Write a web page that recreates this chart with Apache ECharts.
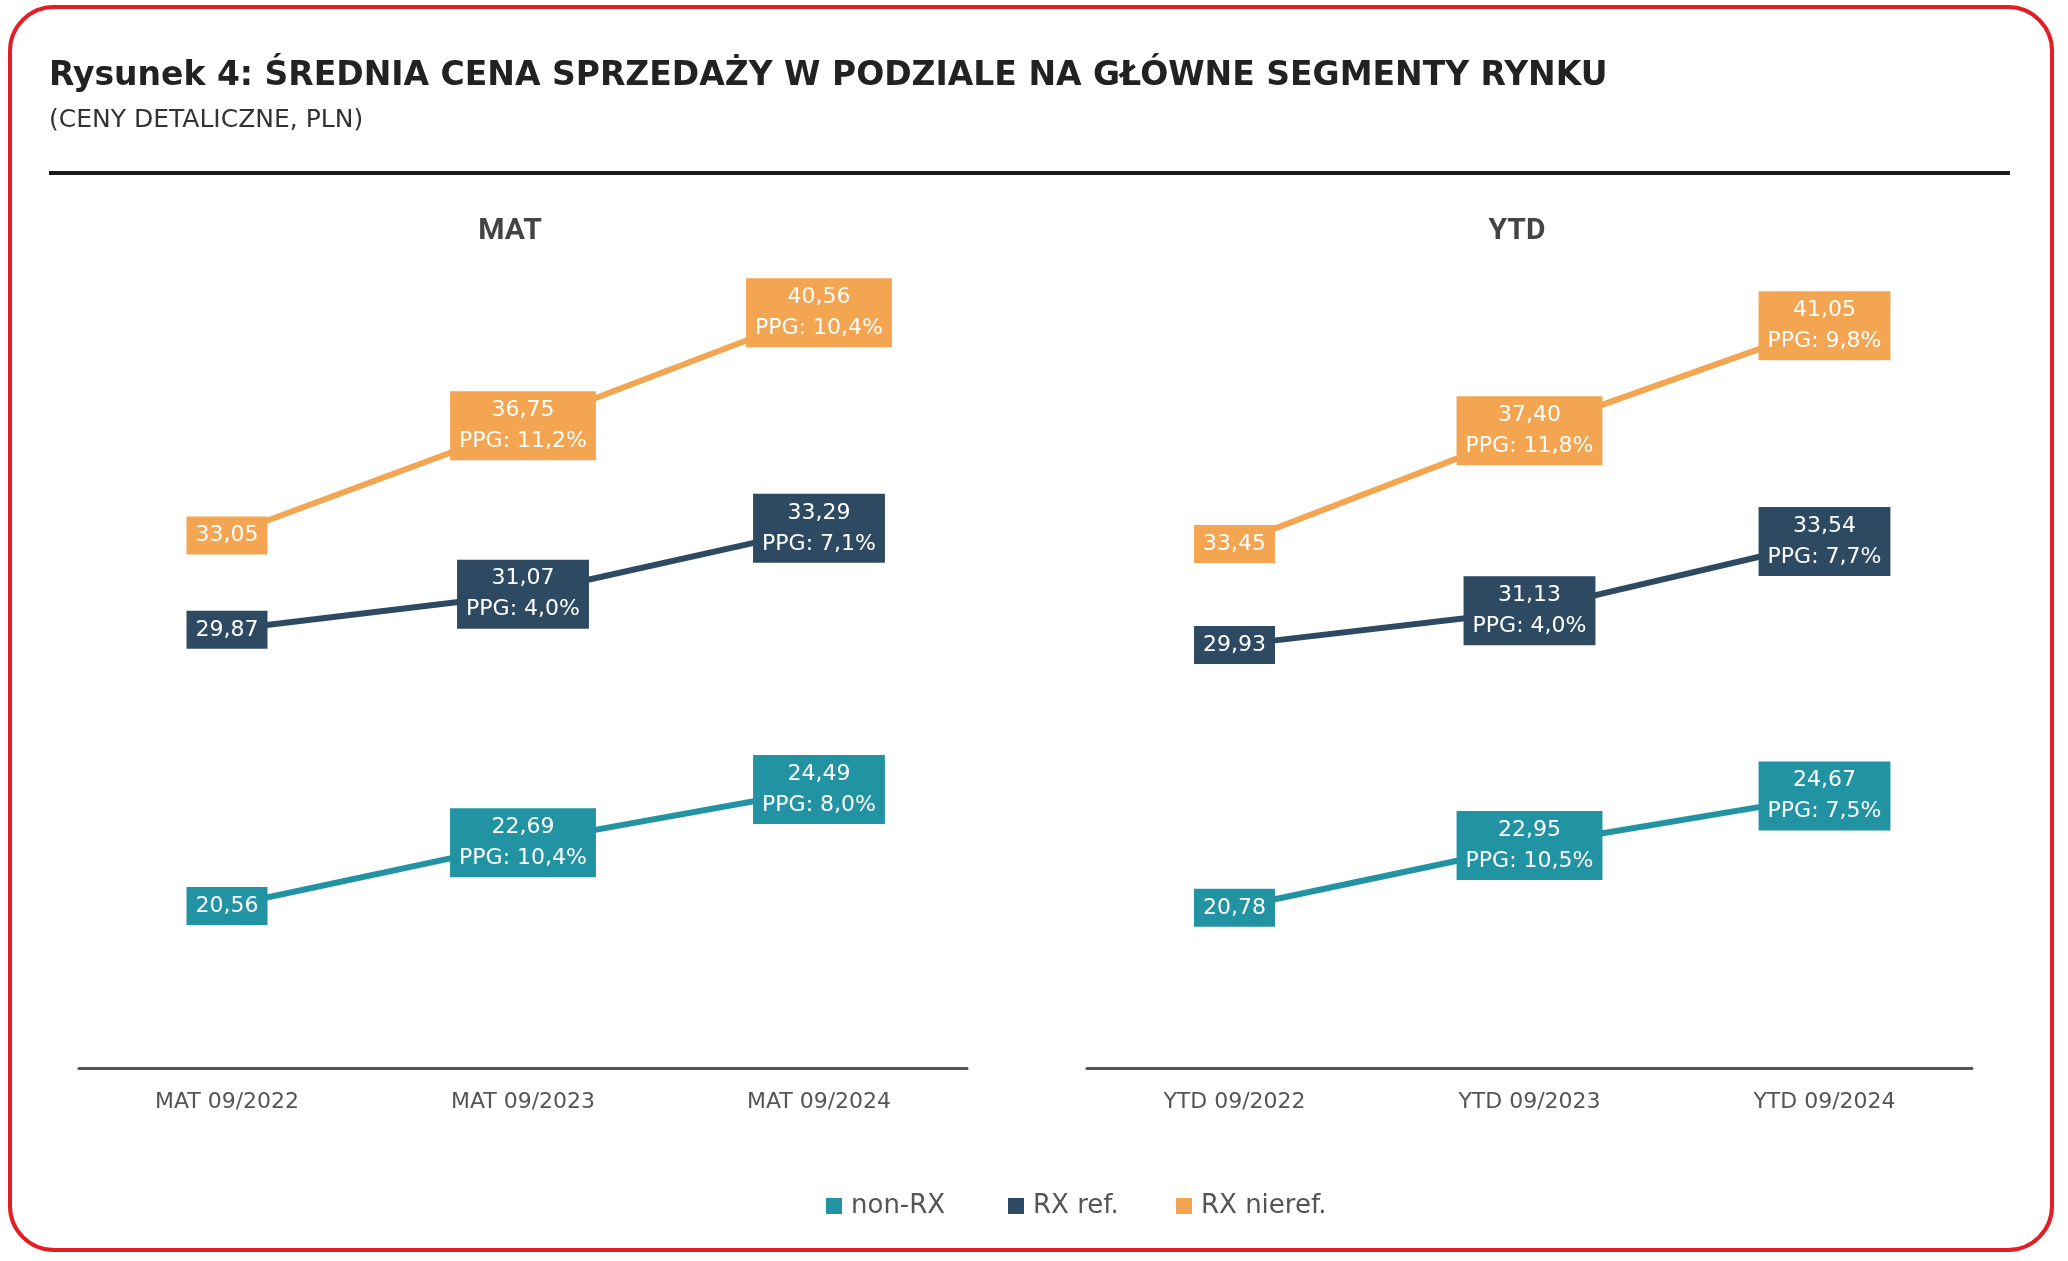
<!DOCTYPE html>
<html>
<head>
<meta charset="utf-8">
<script src="https://cdn.jsdelivr.net/npm/echarts@6/dist/echarts.min.js"></script>
<style>
html,body{margin:0;padding:0;background:#fff;}
#chart{width:2068px;height:1261px;}
</style>
</head>
<body>
<div id="chart"></div>
<script>
// ---- DATA ----
const categoriesMAT = ['MAT 09/2022', 'MAT 09/2023', 'MAT 09/2024'];
const categoriesYTD = ['YTD 09/2022', 'YTD 09/2023', 'YTD 09/2024'];
const seriesNames = ['non-RX', 'RX ref.', 'RX nieref.'];

const matNonRX   = [20.56, 22.69, 24.49];
const matRxRef   = [29.87, 31.07, 33.29];
const matRxNieref= [33.05, 36.75, 40.56];
const matPpgNonRX   = [null, 10.4, 8.0];
const matPpgRxRef   = [null, 4.0, 7.1];
const matPpgRxNieref= [null, 11.2, 10.4];

const ytdNonRX   = [20.78, 22.95, 24.67];
const ytdRxRef   = [29.93, 31.13, 33.54];
const ytdRxNieref= [33.45, 37.40, 41.05];
const ytdPpgNonRX   = [null, 10.5, 7.5];
const ytdPpgRxRef   = [null, 4.0, 7.7];
const ytdPpgRxNieref= [null, 11.8, 9.8];

const titleText = 'Rysunek 4: ŚREDNIA CENA SPRZEDAŻY W PODZIALE NA GŁÓWNE SEGMENTY RYNKU';
const subtitleText = '(CENY DETALICZNE, PLN)';
const panelTitles = ['MAT', 'YTD'];

// ---- STYLE ----
const colors = ['#2293A3', '#2D4A62', '#F3A551'];
const FONT = '"DejaVu Sans", sans-serif';

function fmt(v, d) { return v.toFixed(d).replace('.', ','); }

function makeSeries(name, data, ppg, color, idx) {
  return {
    name: name,
    type: 'line',
    xAxisIndex: idx, yAxisIndex: idx,
    data: data,
    symbol: 'rect',
    symbolSize: 2,
    itemStyle: { color: color },
    lineStyle: { color: color, width: 6 },
    label: {
      show: true,
      position: 'inside',
      color: '#fff',
      backgroundColor: color,
      fontFamily: FONT,
      fontSize: 22,
      lineHeight: 31,
      padding: [4, 9, 3, 9],
      align: 'center',
      formatter: function (p) {
        const v = fmt(data[p.dataIndex], 2);
        const g = ppg[p.dataIndex];
        return g == null ? v : v + '\nPPG: ' + fmt(g, 1) + '%';
      }
    },
    emphasis: { disabled: true },
    animation: false
  };
}

const chart = echarts.init(document.getElementById('chart'), null, { renderer: 'canvas' });

const xAxisCommon = {
  type: 'category',
  boundaryGap: true,
  axisLine: { lineStyle: { color: '#555', width: 3 } },
  axisTick: { show: false },
  axisLabel: { color: '#555', fontFamily: FONT, fontSize: 22, margin: 23 },
  splitLine: { show: false }
};

const legendCommon = {
  icon: 'rect',
  itemWidth: 16, itemHeight: 16,
  top: 1188,
  textStyle: { fontFamily: FONT, fontSize: 26, color: '#555', lineHeight: 26, padding: [0, 0, 0, 4] },
  selectedMode: false
};

chart.setOption({
  backgroundColor: '#fff',
  animation: false,
  grid: [
    { left: 79, top: 178, width: 888, height: 890 },
    { left: 1087, top: 178, width: 885, height: 890 }
  ],
  xAxis: [
    Object.assign({ gridIndex: 0, data: categoriesMAT }, xAxisCommon),
    Object.assign({ gridIndex: 1, data: categoriesYTD }, xAxisCommon)
  ],
  yAxis: [
    { type: 'value', gridIndex: 0, min: 15.1, max: 45.1, show: false },
    { type: 'value', gridIndex: 1, min: 15.2, max: 46.2, show: false }
  ],
  legend: [
    Object.assign({ data: [seriesNames[0]], left: 821 }, legendCommon),
    Object.assign({ data: [seriesNames[1]], left: 1003 }, legendCommon),
    Object.assign({ data: [seriesNames[2]], left: 1171 }, legendCommon)
  ],
  series: [
    makeSeries(seriesNames[0], matNonRX, matPpgNonRX, colors[0], 0),
    makeSeries(seriesNames[1], matRxRef, matPpgRxRef, colors[1], 0),
    makeSeries(seriesNames[2], matRxNieref, matPpgRxNieref, colors[2], 0),
    makeSeries(seriesNames[0], ytdNonRX, ytdPpgNonRX, colors[0], 1),
    makeSeries(seriesNames[1], ytdRxRef, ytdPpgRxRef, colors[1], 1),
    makeSeries(seriesNames[2], ytdRxNieref, ytdPpgRxNieref, colors[2], 1)
  ],
  graphic: [
    { type: 'rect', shape: { x: 10, y: 7, width: 2042, height: 1243, r: 44 },
      style: { fill: 'none', stroke: '#E31E24', lineWidth: 4 }, silent: true },
    { type: 'text', style: { text: titleText, x: 49, y: 76, textVerticalAlign: 'middle',
      font: 'bold 33px "DejaVu Sans", sans-serif', fill: '#222' }, silent: true },
    { type: 'text', style: { text: subtitleText, x: 49, y: 120, textVerticalAlign: 'middle',
      font: '25px "DejaVu Sans", sans-serif', fill: '#333' }, silent: true },
    { type: 'rect', shape: { x: 49, y: 171, width: 1961, height: 4 },
      style: { fill: '#1a1a1a' }, silent: true },
    { type: 'text', style: { text: panelTitles[0], x: 510, y: 231, textAlign: 'center', textVerticalAlign: 'middle',
      font: 'bold 30px Roboto, sans-serif', fill: '#444' }, silent: true },
    { type: 'text', style: { text: panelTitles[1], x: 1517, y: 231, textAlign: 'center', textVerticalAlign: 'middle',
      font: 'bold 30px Roboto, sans-serif', fill: '#444' }, silent: true }
  ]
});
</script>
</body>
</html>
